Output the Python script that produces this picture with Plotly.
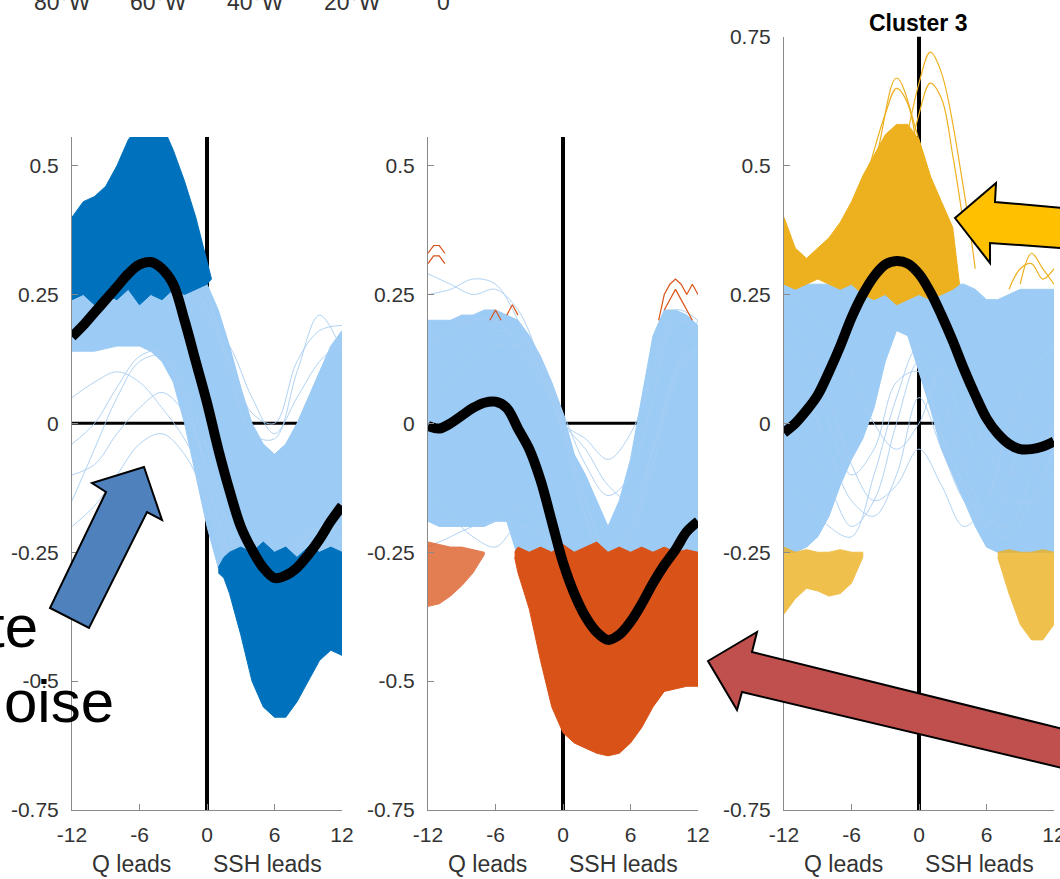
import plotly.graph_objects as go

W, H = 1060, 879

# ---------------- data ----------------
LAGS = list(range(-12, 13))
LAGS_EVEN = list(range(-12, 13, 2))

X_TICKS = [-12, -6, 0, 6, 12]
X_TICK_TEXT = ["-12", "-6", "0", "6", "12"]
Y_TICKS = [-0.75, -0.5, -0.25, 0, 0.25, 0.5, 0.75]
Y_TICK_TEXT = ["-0.75", "-0.5", "-0.25", "0", "0.25", "0.5", "0.75"]

# Panel 1 (cluster 1, blue)
p1_mean = [0.168, 0.19, 0.215, 0.24, 0.265, 0.29, 0.308, 0.313, 0.30, 0.27, 0.20, 0.12, 0.04,
           -0.05, -0.13, -0.20, -0.245, -0.28, -0.30, -0.295, -0.28, -0.255, -0.225, -0.19, -0.16]
p1_light_lo = [0.14, 0.14, 0.14, 0.145, 0.15, 0.15, 0.15, 0.14, 0.12, 0.08, 0.0, -0.1, -0.2,
               -0.28, -0.3, -0.3, -0.3, -0.3, -0.3, -0.3, -0.3, -0.3, -0.3, -0.3, -0.3]
p1_light_hi = [0.3, 0.3, 0.3, 0.3, 0.3, 0.3, 0.3, 0.3, 0.3, 0.3, 0.3, 0.29, 0.27,
               0.22, 0.15, 0.07, 0.0, -0.04, -0.06, -0.04, 0.0, 0.05, 0.1, 0.15, 0.18]
p1_hi_x = [-12, -11, -10, -9, -8, -7, -6, -5, -4, -3, -2, -1, 0, 0.4]
p1_hi_top = [0.40, 0.43, 0.44, 0.46, 0.50, 0.55, 0.58, 0.58, 0.58, 0.53, 0.47, 0.40, 0.31, 0.28]
p1_hi_bot = [0.24, 0.25, 0.23, 0.25, 0.24, 0.26, 0.23, 0.25, 0.24, 0.26, 0.25, 0.26, 0.27, 0.28]
p1_lo_x = [1, 1.5, 2, 3, 4, 5, 6, 7, 8, 9, 10, 11, 12]
p1_lo_top = [-0.28, -0.26, -0.25, -0.24, -0.25, -0.23, -0.25, -0.24, -0.26, -0.24, -0.25, -0.24, -0.25]
p1_lo_bot = [-0.29, -0.30, -0.33, -0.41, -0.50, -0.55, -0.57, -0.57, -0.54, -0.50, -0.46, -0.44, -0.45]
p1_faint = [
    [-0.15, -0.05, 0.05, 0.12, 0.13, 0.05, -0.10, -0.25, -0.32, -0.30, -0.27, -0.25, -0.22],
    [-0.04, 0.0, 0.07, 0.13, 0.14, 0.07, -0.05, -0.20, -0.30, -0.28, -0.25, -0.22, -0.20],
    [-0.20, -0.16, -0.10, -0.04, -0.02, -0.06, -0.15, -0.27, -0.30, -0.27, -0.24, -0.20, -0.18],
    [0.05, 0.08, 0.10, 0.08, 0.03, -0.03, -0.12, -0.25, -0.28, -0.25, -0.22, -0.20, -0.18],
    [-0.10, -0.08, -0.02, 0.03, 0.06, 0.02, -0.08, -0.22, -0.30, -0.27, -0.23, -0.21, -0.2],
    [0.30, 0.32, 0.33, 0.35, 0.35, 0.32, 0.25, 0.10, -0.02, -0.03, 0.10, 0.21, 0.14],
    [0.28, 0.30, 0.32, 0.33, 0.33, 0.30, 0.22, 0.12, 0.02, 0.00, 0.12, 0.18, 0.19],
    [0.26, 0.28, 0.30, 0.31, 0.30, 0.28, 0.20, 0.15, 0.05, -0.02, 0.05, 0.12, 0.16],
]

# Panel 2 (cluster 2, orange)
p2_mean = [-0.005, -0.01, 0.0, 0.015, 0.03, 0.04, 0.042, 0.03, -0.01, -0.05, -0.11, -0.19, -0.27,
           -0.33, -0.375, -0.405, -0.42, -0.41, -0.385, -0.35, -0.31, -0.275, -0.245, -0.21, -0.19]
p2_light_lo = [-0.19, -0.2, -0.2, -0.2, -0.2, -0.2, -0.19, -0.19, -0.26, -0.27, -0.27, -0.27, -0.27,
               -0.27, -0.27, -0.27, -0.27, -0.27, -0.27, -0.27, -0.27, -0.27, -0.27, -0.27, -0.27]
p2_light_hi = [0.2, 0.2, 0.2, 0.21, 0.21, 0.22, 0.22, 0.21, 0.2, 0.17, 0.13, 0.08, 0.02,
               -0.06, -0.1, -0.15, -0.2, -0.15, -0.07, 0.05, 0.17, 0.22, 0.22, 0.21, 0.19]
p2_main_x = [-4.3, -4, -3, -2, -1, 0, 1, 2, 3, 4, 5, 6, 7, 8, 9, 10, 11, 12]
p2_main_top = [-0.25, -0.24, -0.25, -0.24, -0.25, -0.235, -0.25, -0.24, -0.23, -0.25, -0.24, -0.25,
               -0.24, -0.25, -0.24, -0.25, -0.245, -0.25]
p2_main_bot = [-0.26, -0.29, -0.36, -0.46, -0.55, -0.60, -0.62, -0.63, -0.64, -0.645, -0.64, -0.62,
               -0.59, -0.55, -0.52, -0.515, -0.51, -0.51]
p2_left_x = [-12, -11, -10, -9, -8, -7]
p2_left_top = [-0.23, -0.235, -0.24, -0.24, -0.245, -0.25]
p2_left_bot = [-0.355, -0.35, -0.335, -0.315, -0.29, -0.255]
p2_bits = [
    ([-12, -11.5, -11, -10.5], [0.33, 0.345, 0.345, 0.33]),
    ([-12, -11.5, -11, -10.5], [0.31, 0.325, 0.325, 0.31]),
    ([-6.5, -6, -5.5], [0.2, 0.22, 0.2]),
    ([-5, -4.5, -4], [0.21, 0.23, 0.21]),
    ([8.5, 9, 9.5, 10, 10.5, 11, 11.5, 12], [0.2, 0.25, 0.27, 0.28, 0.27, 0.25, 0.27, 0.25]),
    ([9, 9.5, 10, 10.5, 11, 11.5], [0.22, 0.24, 0.26, 0.24, 0.22, 0.2]),
]
p2_faint = [
    [0.29, 0.27, 0.25, 0.26, 0.22, 0.12, 0.0, -0.15, -0.25, -0.2, -0.05, 0.1, 0.2],
    [0.25, 0.26, 0.28, 0.27, 0.2, 0.1, -0.02, -0.18, -0.28, -0.22, -0.08, 0.08, 0.15],
    [0.1, 0.12, 0.15, 0.18, 0.17, 0.12, 0.02, -0.08, -0.14, -0.1, 0.05, 0.2, 0.18],
    [0.05, 0.08, 0.12, 0.15, 0.15, 0.1, 0.0, -0.03, -0.07, -0.02, 0.1, 0.22, 0.2],
    [0.15, 0.18, 0.2, 0.2, 0.15, 0.08, 0.0, -0.05, -0.12, -0.15, -0.05, 0.1, 0.15],
    [-0.24, -0.22, -0.2, -0.19, -0.16, -0.2, -0.33, -0.45, -0.5, -0.45, -0.38, -0.33, -0.3],
    [-0.13, -0.18, -0.22, -0.24, -0.2, -0.22, -0.3, -0.4, -0.45, -0.4, -0.35, -0.3, -0.28],
]

# Panel 3 (cluster 3, yellow)
p3_mean = [-0.018, 0.0, 0.025, 0.055, 0.1, 0.15, 0.205, 0.25, 0.285, 0.308, 0.315, 0.31, 0.29,
           0.255, 0.21, 0.16, 0.105, 0.055, 0.01, -0.02, -0.04, -0.05, -0.05, -0.045, -0.035]
p3_light_lo = [-0.25, -0.25, -0.24, -0.22, -0.18, -0.12, -0.07, -0.03, 0.03, 0.12, 0.18, 0.17, 0.10,
               0.03, -0.05, -0.10, -0.15, -0.20, -0.24, -0.25, -0.25, -0.25, -0.25, -0.25, -0.25]
p3_light_hi = [0.27, 0.27, 0.27, 0.27, 0.27, 0.27, 0.27, 0.27, 0.27, 0.27, 0.27, 0.27, 0.27,
               0.27, 0.27, 0.27, 0.27, 0.26, 0.24, 0.24, 0.25, 0.26, 0.26, 0.26, 0.26]
p3_hi_x = [-12, -11, -10, -9, -8, -7, -6, -5, -4, -3, -2, -1, 0, 1, 2, 3, 3.6]
p3_hi_top = [0.40, 0.34, 0.32, 0.34, 0.36, 0.39, 0.43, 0.48, 0.52, 0.56, 0.58, 0.58, 0.55, 0.48,
             0.43, 0.38, 0.27]
p3_hi_bot = [0.27, 0.26, 0.27, 0.28, 0.27, 0.26, 0.27, 0.25, 0.24, 0.25, 0.23, 0.24, 0.25, 0.24,
             0.25, 0.26, 0.27]
p3_lo_left_x = [-12, -11, -10, -9, -8, -7, -6, -5]
p3_lo_left_top = [-0.24, -0.25, -0.245, -0.25, -0.25, -0.245, -0.25, -0.25]
p3_lo_left_bot = [-0.37, -0.34, -0.32, -0.325, -0.335, -0.33, -0.31, -0.26]
p3_lo_right_x = [7, 8, 9, 10, 11, 12]
p3_lo_right_top = [-0.25, -0.245, -0.25, -0.25, -0.245, -0.25]
p3_lo_right_bot = [-0.26, -0.33, -0.39, -0.42, -0.42, -0.39]
p3_bits = [
    ([-6, -4, -2, 0, 2, 3], [0.4, 0.5, 0.67, 0.55, 0.4, 0.3]),
    ([-2, 0, 1, 2, 4, 5], [0.45, 0.66, 0.72, 0.68, 0.45, 0.3]),
    ([-1, 0, 1, 2, 3, 4], [0.5, 0.6, 0.66, 0.63, 0.52, 0.38]),
    ([-5, -3, -2, -1, 0], [0.45, 0.6, 0.65, 0.62, 0.5]),
    ([8, 9, 10, 11, 12], [0.26, 0.3, 0.31, 0.28, 0.3]),
    ([9, 10, 11, 12], [0.27, 0.33, 0.3, 0.27]),
]
p3_faint = [
    [0.2, 0.15, 0.05, -0.08, -0.15, -0.12, -0.05, -0.12, -0.2, -0.15, 0.0, 0.1, 0.15],
    [0.1, 0.05, -0.05, -0.15, -0.18, -0.1, 0.05, -0.05, -0.15, -0.2, -0.1, 0.0, 0.05],
    [0.25, 0.22, 0.18, 0.1, 0.0, -0.05, 0.0, 0.1, 0.05, -0.05, -0.1, -0.05, 0.0],
    [0.0, -0.05, -0.12, -0.2, -0.15, 0.0, 0.12, 0.05, -0.08, -0.18, -0.2, -0.1, 0.0],
    [-0.1, -0.15, -0.2, -0.22, -0.1, 0.05, 0.15, 0.1, 0.0, -0.1, -0.15, -0.15, -0.1],
    [0.15, 0.1, 0.0, -0.1, -0.05, 0.08, 0.1, -0.02, -0.12, -0.2, -0.22, -0.15, -0.05],
]

TOP_LABELS = ["80°W", "60°W", "40°W", "20°W", "0"]

# ---------------- style ----------------
LIGHT = "#9CCBF5"
FAINT = "#A9CFF3"
BLUE = "#0072BD"
ORANGE = "#D95319"
YELLOW = "#EDB120"
FONT = "Liberation Sans, Arial, Helvetica, sans-serif"
TXT = "#333333"
AX = "#8a8a8a"

fig = go.Figure()


def band(xs, lo, hi, color, xa, ya, opacity=1.0):
    xs = list(xs)
    fig.add_trace(go.Scatter(
        x=xs + xs[::-1], y=list(hi) + list(lo)[::-1], mode="lines", fill="toself",
        fillcolor=color, line=dict(color=color, width=1), opacity=opacity,
        xaxis=xa, yaxis=ya, hoverinfo="skip", showlegend=False))


def line(xs, ys, color, width, xa, ya, shape="spline", opacity=1.0):
    fig.add_trace(go.Scatter(
        x=list(xs), y=list(ys), mode="lines", line=dict(color=color, width=width, shape=shape),
        opacity=opacity, xaxis=xa, yaxis=ya, hoverinfo="skip", showlegend=False))


# Panel 1
band(LAGS, p1_light_lo, p1_light_hi, LIGHT, "x", "y")
for f in p1_faint:
    line(LAGS_EVEN, f, FAINT, 1, "x", "y", opacity=0.9)
band(p1_hi_x, p1_hi_bot, p1_hi_top, BLUE, "x", "y")
band(p1_lo_x, p1_lo_bot, p1_lo_top, BLUE, "x", "y")
line(LAGS, p1_mean, "black", 10, "x", "y")

# Panel 2
band(LAGS, p2_light_lo, p2_light_hi, LIGHT, "x2", "y2")
for f in p2_faint:
    line(LAGS_EVEN, f, FAINT, 1, "x2", "y2", opacity=0.9)
band(p2_main_x, p2_main_bot, p2_main_top, ORANGE, "x2", "y2")
band(p2_left_x, p2_left_bot, p2_left_top, ORANGE, "x2", "y2", opacity=0.75)
for bx, by in p2_bits:
    line(bx, by, ORANGE, 1.2, "x2", "y2", shape="linear")
line(LAGS, p2_mean, "black", 10, "x2", "y2")

# Panel 3
band(LAGS, p3_light_lo, p3_light_hi, LIGHT, "x3", "y3")
for f in p3_faint:
    line(LAGS_EVEN, f, FAINT, 1, "x3", "y3", opacity=0.9)
band(p3_hi_x, p3_hi_bot, p3_hi_top, YELLOW, "x3", "y3")
band(p3_lo_left_x, p3_lo_left_bot, p3_lo_left_top, YELLOW, "x3", "y3", opacity=0.8)
band(p3_lo_right_x, p3_lo_right_bot, p3_lo_right_top, YELLOW, "x3", "y3", opacity=0.8)
for bx, by in p3_bits:
    line(bx, by, YELLOW, 1.2, "x3", "y3")
line(LAGS, p3_mean, "black", 10, "x3", "y3")

# ---------------- axes ----------------
x_dom_px = [(72, 342), (428, 698), (784, 1054)]
y_tops = [0.5555, 0.5555, 0.75]
PX_PER_UNIT = 515.5
BOTTOM_PX = 810
layout_axes = {}
for i in range(3):
    sx = "" if i == 0 else str(i + 1)
    top_px = BOTTOM_PX - (y_tops[i] + 0.75) * PX_PER_UNIT
    yt = [v for v in Y_TICKS if v <= y_tops[i] + 1e-9]
    ytt = [Y_TICK_TEXT[Y_TICKS.index(v)] for v in yt]
    layout_axes["xaxis" + sx] = dict(
        domain=[x_dom_px[i][0] / W, x_dom_px[i][1] / W], range=[-12, 12], anchor="y" + sx,
        tickmode="array", tickvals=X_TICKS, ticktext=X_TICK_TEXT, ticks="inside", ticklen=6,
        tickcolor=AX, showline=True, linecolor=AX, linewidth=1, showgrid=False, zeroline=False,
        tickfont=dict(family=FONT, size=21, color=TXT), ticklabelstandoff=6, fixedrange=True,
        automargin=False, ticklabeloverflow="allow")
    layout_axes["yaxis" + sx] = dict(
        domain=[(H - BOTTOM_PX) / H, (H - top_px) / H], range=[-0.75, y_tops[i]], anchor="x" + sx,
        tickmode="array", tickvals=yt, ticktext=ytt, ticks="inside", ticklen=6, tickcolor=AX,
        showline=True, linecolor=AX, linewidth=1, showgrid=False, zeroline=False,
        tickfont=dict(family=FONT, size=21, color=TXT), ticklabelstandoff=8, fixedrange=True,
        automargin=False)

fig.update_layout(
    width=W, height=H, margin=dict(l=0, r=0, t=0, b=0, pad=0, autoexpand=False),
    paper_bgcolor="white", plot_bgcolor="rgba(0,0,0,0)", showlegend=False, **layout_axes)

# zero reference lines (under the traces)
for i in range(3):
    sx = "" if i == 0 else str(i + 1)
    fig.add_shape(type="line", xref="x" + sx, yref="y" + sx + " domain", x0=0, x1=0, y0=0, y1=1,
                  line=dict(color="black", width=4), layer="below")
    fig.add_shape(type="line", xref="x" + sx + " domain", yref="y" + sx, x0=0, x1=1, y0=0, y1=0,
                  line=dict(color="black", width=3), layer="below")


def P(px, py):
    return f"{px / W:.5f},{1 - py / H:.5f}"


def arrow(pts, color):
    path = "M " + " L ".join(P(a, b) for a, b in pts) + " Z"
    fig.add_shape(type="path", xref="paper", yref="paper", path=path, fillcolor=color,
                  line=dict(color="black", width=2), layer="above")


arrow([(144, 467), (162, 520), (147, 512), (89, 628), (50, 608), (106, 492), (92, 483)], "#4F81BD")
arrow([(708, 661), (757, 632), (752, 652), (1075, 732), (1075, 771), (742, 692), (737, 710)], "#C0504D")
arrow([(955, 218), (996, 183), (995, 202), (1075, 209), (1075, 249), (990, 243), (990, 263)], "#FFC000")

# axis labels
for i in range(3):
    sx = "" if i == 0 else str(i + 1)
    for txt, lag in (("Q leads", -6.7), ("SSH leads", 5.35)):
        fig.add_annotation(text=txt, xref="x" + sx, yref="paper", x=lag, y=1 - 864 / H,
                           xanchor="center", yanchor="middle", showarrow=False,
                           font=dict(family=FONT, size=23, color=TXT))

fig.add_annotation(text="<b>Cluster 3</b>", xref="paper", yref="paper", x=918 / W, y=1 - 23 / H,
                   xanchor="center", yanchor="middle", showarrow=False,
                   font=dict(family=FONT, size=23, color="black"))

for txt, cx in zip(TOP_LABELS, [62, 158, 255, 352, 443]):
    fig.add_annotation(text=txt, xref="paper", yref="paper", x=cx / W, y=1 - 2 / H,
                       xanchor="center", yanchor="middle", showarrow=False,
                       font=dict(family=FONT, size=23, color=TXT))

fig.add_annotation(text="te", xref="paper", yref="paper", x=40 / W, y=1 - 626 / H,
                   xanchor="right", yanchor="middle", showarrow=False,
                   font=dict(family=FONT, size=60, color="black"))
fig.add_annotation(text="oise", xref="paper", yref="paper", x=116 / W, y=1 - 701 / H,
                   xanchor="right", yanchor="middle", showarrow=False,
                   font=dict(family=FONT, size=60, color="black"))

fig.write_html("out.html", config={"displayModeBar": False},
               post_script="document.body.style.margin='0';")
